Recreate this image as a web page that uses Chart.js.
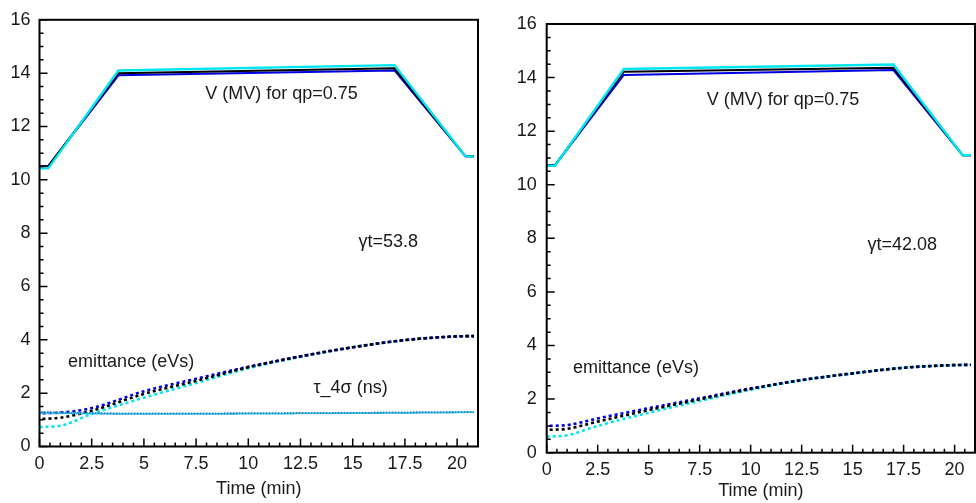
<!DOCTYPE html>
<html><head><meta charset="utf-8">
<script src="https://cdn.jsdelivr.net/npm/chart.js@4/dist/chart.umd.min.js"></script>
<style>
html,body{margin:0;padding:0;background:#fff;width:976px;height:503px;overflow:hidden}
canvas{position:absolute;top:0}
#c1{left:0}
#c2{left:490px}
</style></head>
<body>
<canvas id="c1" width="490" height="503"></canvas>
<canvas id="c2" width="486" height="503"></canvas>
<script>
// ---------- data ----------
const xTicks = [0, 2.5, 5, 7.5, 10, 12.5, 15, 17.5, 20];
const yTicks = [0, 2, 4, 6, 8, 10, 12, 14, 16];

// Left panel (gamma_t = 53.8)
const vTimeL = [0, 0.42, 3.78, 17.0, 20.4, 20.8];
const vBlueL  = [10.51, 10.51, 13.92, 14.10, 10.88, 10.88];
const vBlackL = [10.51, 10.51, 14.00, 14.18, 10.88, 10.88];
const vCyanL  = [10.43, 10.43, 14.10, 14.30, 10.88, 10.88];

const eTimeL = [0, 1, 2.5, 5, 7.5, 10, 12.5, 15, 17.5, 20, 20.8];
const eBlueL  = [1.25, 1.27, 1.44, 2.07, 2.54, 2.99, 3.38, 3.72, 3.99, 4.13, 4.14];
const eBlackL = [1.03, 1.08, 1.34, 1.97, 2.46, 2.97, 3.38, 3.72, 3.99, 4.13, 4.14];
const eCyanL  = [0.73, 0.78, 1.22, 1.83, 2.38, 2.93, 3.36, 3.72, 3.99, 4.13, 4.14];

const tTimeL = [0, 5, 10, 15, 20.8];
const tBlueL  = [1.29, 1.23, 1.24, 1.26, 1.29];
const tBlackL = [1.27, 1.23, 1.24, 1.26, 1.29];
const tCyanL  = [1.25, 1.22, 1.23, 1.25, 1.28];

// Right panel (gamma_t = 42.08)
const vTimeR = [0, 0.41, 3.78, 17.0, 20.4, 20.8];
const vBlueR  = [10.73, 10.73, 14.10, 14.28, 11.10, 11.10];
const vBlackR = [10.73, 10.73, 14.22, 14.37, 11.10, 11.10];
const vCyanR  = [10.71, 10.71, 14.32, 14.49, 11.10, 11.10];

const eTimeR = [0, 1, 2.5, 5, 7.5, 10, 12.5, 15, 17.5, 20, 20.8];
const eBlueR  = [1.00, 1.03, 1.28, 1.66, 2.03, 2.40, 2.71, 2.96, 3.17, 3.27, 3.28];
const eBlackR = [0.85, 0.89, 1.16, 1.59, 1.99, 2.38, 2.71, 2.96, 3.17, 3.27, 3.28];
const eCyanR  = [0.60, 0.65, 1.00, 1.49, 1.93, 2.35, 2.70, 2.96, 3.17, 3.27, 3.28];

const labelsL = [
  {text: 'V (MV) for qp=0.75', x: 7.94, y: 13.23},
  {text: 'γt=53.8', x: 15.28, y: 7.65},
  {text: 'emittance (eVs)', x: 1.37, y: 3.17},
  {text: 'τ_4σ (ns)', x: 13.12, y: 2.18}
];
const labelsR = [
  {text: 'V (MV) for qp=0.75', x: 7.85, y: 13.16},
  {text: 'γt=42.08', x: 15.73, y: 7.75},
  {text: 'emittance (eVs)', x: 1.29, y: 3.16}
];

// ---------- helpers ----------
const BLUE = '#0000e0', BLACK = '#000000', CYAN = '#00e6f0';
const FONT = '"Liberation Sans", Arial, sans-serif';
const FS = 18;
const pts = (xs, ys) => xs.map((x, i) => ({x, y: ys[i]}));

function vSet(xs, ys, color, w) {
  return {data: pts(xs, ys), borderColor: color, borderWidth: w, pointRadius: 0, tension: 0, fill: false};
}
function eSet(xs, ys, color, off) {
  return {data: pts(xs, ys), borderColor: color, borderWidth: 2.6, pointRadius: 0,
    cubicInterpolationMode: 'monotone', borderDash: [3, 3], borderDashOffset: off, fill: false};
}
function tSet(xs, ys, color, off) {
  return {data: pts(xs, ys), borderColor: color, borderWidth: 1.8, pointRadius: 0,
    cubicInterpolationMode: 'monotone', borderDash: [1.5, 1.5], borderDashOffset: off, fill: false};
}

const framePlugin = {
  id: 'frame',
  afterDatasetsDraw(chart, args, opts) {
    const {ctx, chartArea: a, scales: {x, y}} = chart;
    ctx.save();
    ctx.fillStyle = '#1a1a1a';
    ctx.font = FS + 'px ' + FONT;
    ctx.textAlign = 'left';
    ctx.textBaseline = 'middle';
    (opts.labels || []).forEach(l => ctx.fillText(l.text, x.getPixelForValue(l.x), y.getPixelForValue(l.y)));
    ctx.strokeStyle = '#000';
    ctx.lineWidth = 2;
    ctx.strokeRect(a.left, a.top, a.right - a.left, a.bottom - a.top);
    ctx.lineWidth = 1.5;
    ctx.beginPath();
    for (let i = 0; i <= 32; i++) {
      const py = y.getPixelForValue(i * 0.5);
      const len = (i % 4 === 0) ? 8 : 4;
      ctx.moveTo(a.left, py); ctx.lineTo(a.left + len, py);
    }
    for (let i = 0; i <= 42; i++) {
      const px = x.getPixelForValue(i * 0.5);
      if (px > a.right) break;
      const len = (i % 5 === 0) ? 8 : 4;
      ctx.moveTo(px, a.bottom); ctx.lineTo(px, a.bottom - len);
    }
    ctx.stroke();
    ctx.restore();
  }
};

function makeChart(id, datasets, labels, geo) {
  return new Chart(document.getElementById(id), {
    type: 'line',
    data: {datasets},
    plugins: [framePlugin],
    options: {
      responsive: false,
      devicePixelRatio: 1,
      animation: false,
      layout: {padding: {left: 0, top: geo.top, right: geo.right, bottom: 0}},
      plugins: {legend: {display: false}, tooltip: {enabled: false}, frame: {labels}},
      scales: {
        x: {
          type: 'linear', min: 0, max: 21,
          afterFit: s => { s.height = geo.xh; },
          afterBuildTicks: s => { s.ticks = xTicks.map(v => ({value: v})); },
          grid: {display: false, drawTicks: false},
          border: {display: false},
          ticks: {color: '#1a1a1a', font: {size: FS, family: FONT}, padding: 7, maxRotation: 0, autoSkip: false,
            callback: v => String(v)},
          title: {display: true, text: 'Time (min)', color: '#1a1a1a', font: {size: FS, family: FONT},
            padding: {top: 0, bottom: geo.tpad}}
        },
        y: {
          type: 'linear', min: 0, max: 16,
          afterFit: s => { s.width = geo.yw; },
          afterBuildTicks: s => { s.ticks = yTicks.map(v => ({value: v})); },
          grid: {display: false, drawTicks: false},
          border: {display: false},
          ticks: {color: '#1a1a1a', font: {size: FS, family: FONT}, padding: geo.ypad, autoSkip: false,
            callback: v => String(v)}
        }
      }
    }
  });
}

// dataset 0 is drawn on top
makeChart('c1', [
  tSet(tTimeL, tCyanL, '#18c4e4', 0),
  tSet(tTimeL, tBlueL, '#2e7cc8', 1.5),
  tSet(tTimeL, tBlackL, '#1a8fb0', 1.5),
  eSet(eTimeL, eBlackL, BLACK, 3),
  eSet(eTimeL, eBlueL, BLUE, 3),
  eSet(eTimeL, eCyanL, CYAN, 0),
  vSet(vTimeL, vCyanL, CYAN, 2.4),
  vSet(vTimeL, vBlackL, BLACK, 2),
  vSet(vTimeL, vBlueL, BLUE, 2)
], labelsL, {top: 10, right: 12, xh: 56.5, yw: 39.5, ypad: 9, tpad: 3});

makeChart('c2', [
  eSet(eTimeR, eBlackR, BLACK, 3),
  eSet(eTimeR, eBlueR, BLUE, 3),
  eSet(eTimeR, eCyanR, CYAN, 0),
  vSet(vTimeR, vCyanR, CYAN, 2.4),
  vSet(vTimeR, vBlackR, BLACK, 2),
  vSet(vTimeR, vBlueR, BLUE, 2)
], labelsR, {top: 24, right: 1, xh: 50.3, yw: 56.7, ypad: 10, tpad: 1});
</script>
</body></html>
